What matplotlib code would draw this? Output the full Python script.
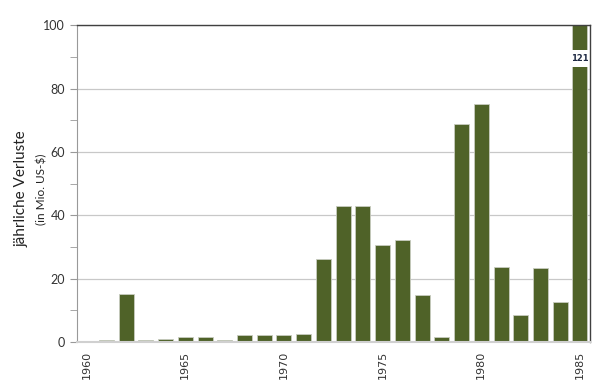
import matplotlib
matplotlib.use("Agg")
import matplotlib.pyplot as plt
from matplotlib.patches import Rectangle
from matplotlib.ticker import MultipleLocator

# jährliche Verluste 1960-1985 (in Mio. US-$)
years = list(range(1960, 1986))
losses = [0.3, 0.6, 15.3, 0.6, 0.9, 1.6, 1.6, 0.6, 2.2, 2.2, 2.4, 2.5, 26.1,
          42.9, 42.9, 30.6, 32.2, 15.0, 1.6, 68.8, 75.1, 23.7, 8.4, 23.5, 12.5, 121]
tick_years = [1960, 1965, 1970, 1975, 1980, 1985]

bar_color = "#4f6228"

fig = plt.figure(figsize=(6, 3.87), dpi=100)
ax = fig.add_axes([0.128, 0.116, 0.855, 0.819])

x = list(range(len(years)))
ax.bar(x, losses, width=0.76, color=bar_color, edgecolor="#c8ccc0", linewidth=0.6, zorder=2)

ax.set_xlim(-0.5, len(years) - 0.5)
ax.set_ylim(0, 100)

# break marker on the bar that runs off the chart
last = len(years) - 1
ax.add_patch(Rectangle((last - 0.45, 86.7), 0.9, 5.6, facecolor="white", edgecolor="none", zorder=3))
ax.text(last, 89.4, f"{losses[-1]:.0f}", ha="center", va="center", fontsize=6,
        fontweight="bold", color="#1f2a44", zorder=4)

ax.yaxis.set_major_locator(MultipleLocator(20))
ax.yaxis.set_minor_locator(MultipleLocator(10))
ax.grid(axis="y", which="major", color="#c8c8c8", linewidth=0.9, zorder=0)
ax.set_axisbelow(True)

ax.set_xticks([years.index(y) for y in tick_years])
ax.set_xticklabels([str(y) for y in tick_years], rotation=90, fontsize=8, color="#333333")
ax.tick_params(axis="x", length=0, pad=6)
ax.tick_params(axis="y", which="both", direction="out", length=5, color="#999999",
               labelsize=9, labelcolor="#333333")
for lbl in ax.get_yticklabels():
    lbl.set_family("Lato")

for side in ["top", "right"]:
    ax.spines[side].set_color("#404040")
    ax.spines[side].set_linewidth(1.0)
ax.spines["left"].set_color("#999999")
ax.spines["bottom"].set_color("#d0d0d0")
ax.spines["bottom"].set_linewidth(1.5)

fig.text(0.036, 0.512, "jährliche Verluste", rotation=90, ha="center", va="center",
         fontsize=11, family="Lato", color="#222222")
fig.text(0.0695, 0.512, "(in Mio. US-$)", rotation=90, ha="center", va="center",
         fontsize=8.5, family="Lato", color="#222222")

fig.savefig("out.png", dpi=100)
